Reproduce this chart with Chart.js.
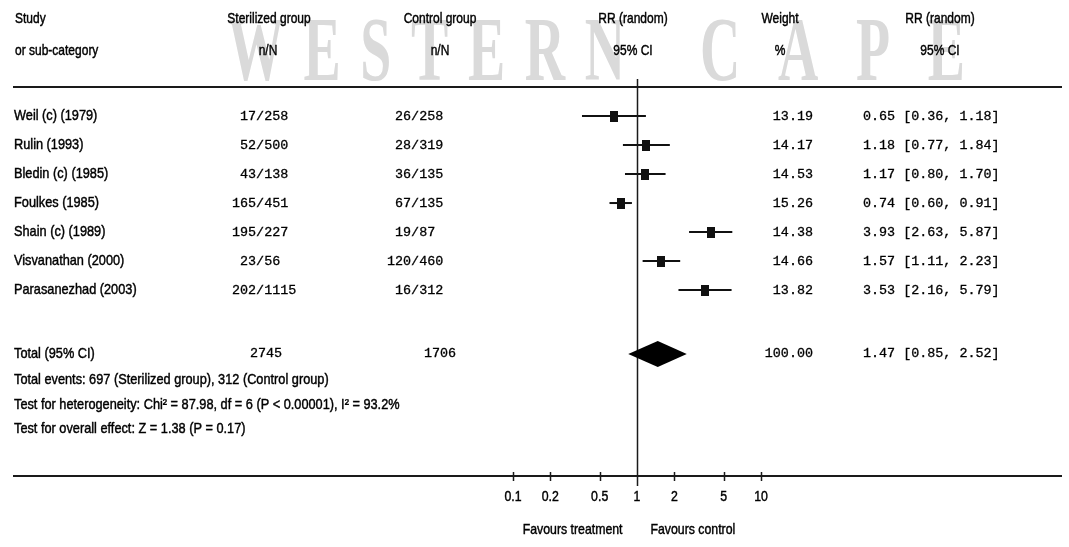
<!DOCTYPE html>
<html>
<head>
<meta charset="utf-8">
<script src="https://cdn.jsdelivr.net/npm/chart.js@4/dist/chart.umd.min.js"></script>
<style>
  html, body { margin: 0; padding: 0; background: #fff; }
  canvas { display: block; }
</style>
</head>
<body>
<canvas id="forest" width="1069" height="547"></canvas>
<script>
// study rows
var studies = ['Weil (c) (1979)', 'Rulin (1993)', 'Bledin (c) (1985)', 'Foulkes (1985)',
               'Shain (c) (1989)', 'Visvanathan (2000)', 'Parasanezhad (2003)'];
var sterEvents = [17, 52, 43, 165, 195, 23, 202];
var sterTotal  = [258, 500, 138, 451, 227, 56, 1115];
var ctrlEvents = [26, 28, 36, 67, 19, 120, 16];
var ctrlTotal  = [258, 319, 135, 135, 87, 460, 312];
var weights    = [13.19, 14.17, 14.53, 15.26, 14.38, 14.66, 13.82];
var rr         = [0.65, 1.18, 1.17, 0.74, 3.93, 1.57, 3.53];
var rrLow      = [0.36, 0.77, 0.80, 0.60, 2.63, 1.11, 2.16];
var rrHigh     = [1.18, 1.84, 1.70, 0.91, 5.87, 2.23, 5.79];

// pooled result
var totalSter = 2745;
var totalCtrl = 1706;
var totalWeight = 100.00;
var totalRR = [1.47, 0.85, 2.52];   // estimate, low, high
var totalRow = 8.2;

// axis
var tickValues = [0.1, 0.2, 0.5, 1, 2, 5, 10];
var tickLabels = ['0.1', '0.2', '0.5', '1', '2', '5', '10'];

var footLines = [
  'Total events: 697 (Sterilized group), 312 (Control group)',
  'Test for heterogeneity: Chi\u00b2 = 87.98, df = 6 (P < 0.00001), I\u00b2 = 93.2%',
  'Test for overall effect: Z = 1.38 (P = 0.17)'
];
var footRows = [9.1, 9.97, 10.8];

var SANS = '"Liberation Sans", Arial, sans-serif';
var MONO = '"Liberation Mono", "DejaVu Sans Mono", monospace';

// narrow, slightly heavy text like the scanned figure
function sansText(ctx, s, x, y, align, hs) {
  ctx.save();
  ctx.font = '15px ' + SANS;
  ctx.fillStyle = '#000';
  ctx.strokeStyle = '#000';
  ctx.lineWidth = 0.45;
  ctx.textBaseline = 'middle';
  ctx.textAlign = align || 'left';
  ctx.translate(x, y);
  ctx.scale(hs || 0.85, 1);
  ctx.fillText(s, 0, 0);
  ctx.strokeText(s, 0, 0);
  ctx.restore();
}

function monoText(ctx, s, x, y, align) {
  ctx.save();
  ctx.font = '13.4px ' + MONO;
  ctx.fillStyle = '#000';
  ctx.strokeStyle = '#000';
  ctx.lineWidth = 0.3;
  ctx.textBaseline = 'middle';
  ctx.textAlign = align || 'left';
  ctx.fillText(s, x, y);
  ctx.strokeText(s, x, y);
  ctx.restore();
}

function spacedWord(ctx, word, x0, x1, base, hs) {
  var chars = word.split('');
  var w = chars.map(function(c) { return ctx.measureText(c).width * hs; });
  var sum = w.reduce(function(a, b) { return a + b; }, 0);
  var gap = (x1 - x0 - sum) / (chars.length - 1);
  var x = x0;
  chars.forEach(function(c, i) {
    ctx.save();
    ctx.translate(x, base);
    ctx.scale(hs, 1);
    ctx.fillText(c, 0, 0);
    ctx.restore();
    x += w[i] + gap;
  });
}

// square markers, size follows weight
var markerImgs = weights.map(function(wt) {
  var c = document.createElement('canvas');
  var s = Math.sqrt(wt / 14.4);
  c.width = Math.round(8 * s);
  c.height = Math.round(11 * s);
  var g = c.getContext('2d');
  g.fillStyle = '#111';
  g.fillRect(0, 0, c.width, c.height);
  return c;
});

var forestPlugin = {
  id: 'forestText',
  beforeDraw: function(chart) {
    var ctx = chart.ctx;
    // faint scan watermark
    ctx.save();
    ctx.font = 'bold 90px "Liberation Serif", "Times New Roman", serif';
    ctx.fillStyle = '#dadada';
    ctx.textBaseline = 'alphabetic';
    spacedWord(ctx, 'WESTERN', 228, 625, 80, 0.62);
    spacedWord(ctx, 'CAPE', 700, 965, 80, 0.62);
    ctx.restore();
  },
  afterDatasetsDraw: function(chart) {
    var ctx = chart.ctx;
    var xs = chart.scales.x, ys = chart.scales.y;
    var area = chart.chartArea;
    var top = area.top, bottom = area.bottom;

    // header rule and axis line
    ctx.save();
    ctx.strokeStyle = '#1a1a1a';
    ctx.lineWidth = 2;
    ctx.beginPath();
    ctx.moveTo(13, top); ctx.lineTo(1062, top);
    ctx.moveTo(13, bottom); ctx.lineTo(1062, bottom);
    ctx.stroke();

    // line of no effect
    var x1 = Math.round(xs.getPixelForValue(1)) + 0.5;
    ctx.lineWidth = 1.5;
    ctx.beginPath();
    ctx.moveTo(x1, top - 8);
    ctx.lineTo(x1, bottom + 10);
    ctx.stroke();

    // tick marks
    tickValues.forEach(function(v) {
      if (v === 1) return;
      var px = Math.round(xs.getPixelForValue(v)) + 0.5;
      ctx.beginPath();
      ctx.moveTo(px, bottom - 4);
      ctx.lineTo(px, bottom + 5);
      ctx.stroke();
    });

    // pooled diamond
    var cy = ys.getPixelForValue(totalRow);
    ctx.fillStyle = '#000';
    ctx.beginPath();
    ctx.moveTo(xs.getPixelForValue(totalRR[1]), cy);
    ctx.lineTo(xs.getPixelForValue(totalRR[0]), cy - 13);
    ctx.lineTo(xs.getPixelForValue(totalRR[2]), cy);
    ctx.lineTo(xs.getPixelForValue(totalRR[0]), cy + 13);
    ctx.closePath();
    ctx.fill();
    ctx.restore();

    // column headers
    var hh = 0.8;
    sansText(ctx, 'Study', 15, top - 68, 'left', hh);
    sansText(ctx, 'or sub-category', 15, top - 36, 'left', hh);
    sansText(ctx, 'Sterilized group', 269, top - 68, 'center', hh);
    sansText(ctx, 'n/N', 268, top - 36, 'center', hh);
    sansText(ctx, 'Control group', 440, top - 68, 'center', hh);
    sansText(ctx, 'n/N', 440, top - 36, 'center', hh);
    sansText(ctx, 'RR (random)', 633, top - 68, 'center', hh);
    sansText(ctx, '95% CI', 633, top - 36, 'center', hh);
    sansText(ctx, 'Weight', 780, top - 68, 'center', hh);
    sansText(ctx, '%', 780, top - 36, 'center', hh);
    sansText(ctx, 'RR (random)', 940, top - 68, 'center', hh);
    sansText(ctx, '95% CI', 940, top - 36, 'center', hh);

    // study rows
    studies.forEach(function(name, i) {
      var y = ys.getPixelForValue(i);
      sansText(ctx, name, 14, y);
      monoText(ctx, String(sterEvents[i]).padStart(3, ' ') + '/' + sterTotal[i], 232, y);
      monoText(ctx, String(ctrlEvents[i]).padStart(3, ' ') + '/' + ctrlTotal[i], 387, y);
      monoText(ctx, weights[i].toFixed(2), 813, y, 'right');
      monoText(ctx, rr[i].toFixed(2) + ' [' + rrLow[i].toFixed(2) + ', ' + rrHigh[i].toFixed(2) + ']', 863, y);
    });

    // total row
    sansText(ctx, 'Total (95% CI)', 14, cy);
    monoText(ctx, String(totalSter), 266, cy, 'center');
    monoText(ctx, String(totalCtrl), 440, cy, 'center');
    monoText(ctx, totalWeight.toFixed(2), 813, cy, 'right');
    monoText(ctx, totalRR[0].toFixed(2) + ' [' + totalRR[1].toFixed(2) + ', ' + totalRR[2].toFixed(2) + ']', 863, cy);

    footLines.forEach(function(t, i) {
      sansText(ctx, t, 14, ys.getPixelForValue(footRows[i]));
    });

    // axis labels
    tickValues.forEach(function(v, i) {
      sansText(ctx, tickLabels[i], xs.getPixelForValue(v), bottom + 21, 'center', 0.82);
    });
    sansText(ctx, 'Favours treatment', x1 - 15, bottom + 54, 'right', 0.82);
    sansText(ctx, 'Favours control', x1 + 13, bottom + 54, 'left', 0.82);
  }
};

var datasets = [{
  label: 'RR',
  data: rr.map(function(v, i) { return { x: v, y: i }; }),
  pointStyle: markerImgs,
  pointRadius: 6,
  showLine: false
}];
studies.forEach(function(name, i) {
  datasets.push({
    label: name,
    data: [{ x: rrLow[i], y: i }, { x: rrHigh[i], y: i }],
    showLine: true,
    borderColor: '#111',
    borderWidth: 2,
    pointRadius: 0
  });
});

new Chart(document.getElementById('forest'), {
  type: 'scatter',
  data: { datasets: datasets },
  options: {
    responsive: false,
    devicePixelRatio: 1,
    animation: false,
    layout: { padding: { left: 513, right: 1069 - 761, top: 87, bottom: 547 - 476 } },
    scales: {
      x: { type: 'logarithmic', min: 0.1, max: 10, display: false },
      y: { type: 'linear', min: -1, max: 12.41, reverse: true, display: false }
    },
    plugins: {
      legend: { display: false },
      tooltip: { enabled: false }
    }
  },
  plugins: [forestPlugin]
});
</script>
</body>
</html>
